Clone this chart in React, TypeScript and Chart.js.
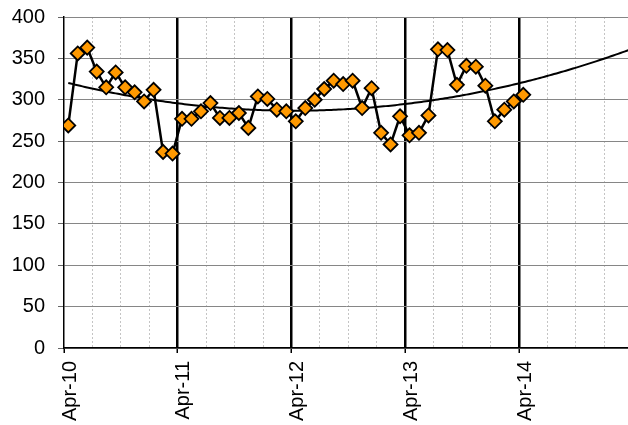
import React, { useEffect, useRef } from "react";
import { Chart, registerables } from "chart.js";

Chart.register(...registerables);

// Year tick labels and their month positions (months since Apr-2010)
const yearLabels = ["Apr-10", "Apr-11", "Apr-12", "Apr-13", "Apr-14"];
const yearMonths = [0, 12, 24, 36, 48];

// Monthly observations, Apr-2010 .. Apr-2014 (plotted mid-month)
const monthIndex = Array.from({ length: 49 }, (_, i) => i);
const midMonth = 0.45;
const values = [
  269, 356, 363, 334, 315, 333, 315, 309, 298, 312,
  237, 235, 277, 277, 286, 296, 278, 278, 284, 266,
  304, 301, 288, 286, 274, 290, 300, 313, 323, 319,
  323, 290, 314, 260, 246, 280, 257, 260, 281, 361,
  360, 318, 341, 340, 317, 274, 288, 298, 306,
];

const xMax = 59.5;
const yMax = 400;
const yStep = 50;

const FONT = "'Liberation Sans', Arial, sans-serif";

// Least-squares polynomial (order 2) trendline, as in the original chart
function quadFit(xs: number[], ys: number[]) {
  const S = [0, 0, 0, 0, 0];
  const T = [0, 0, 0];
  for (let i = 0; i < xs.length; i++) {
    let p = 1;
    for (let k = 0; k < 5; k++) {
      S[k] += p;
      if (k < 3) T[k] += p * ys[i];
      p *= xs[i];
    }
  }
  const A = [
    [S[0], S[1], S[2], T[0]],
    [S[1], S[2], S[3], T[1]],
    [S[2], S[3], S[4], T[2]],
  ];
  for (let c = 0; c < 3; c++) {
    let piv = c;
    for (let r = c + 1; r < 3; r++) if (Math.abs(A[r][c]) > Math.abs(A[piv][c])) piv = r;
    [A[c], A[piv]] = [A[piv], A[c]];
    for (let r = 0; r < 3; r++) {
      if (r === c) continue;
      const f = A[r][c] / A[c][c];
      for (let k = c; k < 4; k++) A[r][k] -= f * A[c][k];
    }
  }
  return [A[0][3] / A[0][0], A[1][3] / A[1][1], A[2][3] / A[2][2]];
}

export default function App() {
  const ref = useRef<HTMLCanvasElement | null>(null);

  useEffect(() => {
    if (!ref.current) return;
    const xs = monthIndex.map((m) => m + midMonth);
    const points = xs.map((x, i) => ({ x, y: values[i] }));
    const [a, b, c] = quadFit(xs, values);
    const trend: { x: number; y: number }[] = [];
    for (let x = xs[0]; x <= xMax + 0.5; x += 0.25) {
      trend.push({ x, y: a + b * x + c * x * x });
    }

    const chart = new Chart(ref.current, {
      type: "line",
      data: {
        datasets: [
          {
            data: points,
            borderColor: "#000",
            borderWidth: 2.5,
            pointStyle: "rectRot",
            pointRadius: 7,
            pointBackgroundColor: "#FF9900",
            pointBorderColor: "#000",
            pointBorderWidth: 1.8,
            tension: 0,
            order: 0,
          },
          {
            data: trend,
            borderColor: "#000",
            borderWidth: 2,
            pointRadius: 0,
            tension: 0,
            order: 1,
          },
        ],
      },
      options: {
        animation: false,
        responsive: true,
        maintainAspectRatio: false,
        layout: {
          autoPadding: false,
          padding: { top: 17, left: 0, right: 0, bottom: 0 },
        },
        plugins: { legend: { display: false }, tooltip: { enabled: false } },
        scales: {
          x: {
            type: "linear",
            min: 0,
            max: xMax,
            afterFit: (s: any) => {
              s.height = 77;
              s.paddingLeft = 0;
              s.paddingRight = 0;
            },
            ticks: {
              stepSize: 3,
              includeBounds: false,
              autoSkip: false,
              maxRotation: 90,
              minRotation: 90,
              padding: 8,
              labelOffset: 6,
              color: "#000",
              font: { family: FONT, size: 20 },
              callback: (v: any) => {
                const i = yearMonths.indexOf(Number(v));
                return i >= 0 ? yearLabels[i] : "";
              },
            },
            grid: {
              color: (ctx: any) => {
                const v = ctx.tick ? ctx.tick.value : 0;
                if (v === 0) return "transparent";
                return v % 12 === 0 ? "#000" : "#c4c4c4";
              },
              lineWidth: (ctx: any) => {
                const v = ctx.tick ? ctx.tick.value : 0;
                return v % 12 === 0 ? 2.5 : 1;
              },
              tickLength: 5,
              tickWidth: 1.5,
              tickColor: (ctx: any) => {
                const v = ctx.tick ? ctx.tick.value : 0;
                return v % 12 === 0 ? "#000" : "transparent";
              },
            },
            border: {
              color: "#000",
              width: 1.5,
              dash: (ctx: any) =>
                ctx.tick && ctx.tick.value % 12 !== 0 ? [2, 2] : [],
            },
          },
          y: {
            min: 0,
            max: yMax,
            afterFit: (s: any) => {
              s.width = 64;
              s.paddingTop = 0;
              s.paddingBottom = 0;
            },
            ticks: {
              stepSize: yStep,
              padding: 13,
              color: "#000",
              font: { family: FONT, size: 20 },
            },
            grid: {
              color: "#868686",
              lineWidth: 1,
              tickLength: 6,
              tickColor: "#666",
            },
            border: { color: "#000", width: 1.5 },
          },
        },
      },
    });
    return () => chart.destroy();
  }, []);

  return (
    <div
      style={{
        position: "fixed",
        left: 0,
        top: 0,
        width: 628,
        height: 425,
        background: "#fff",
      }}
    >
      <canvas ref={ref} />
    </div>
  );
}
